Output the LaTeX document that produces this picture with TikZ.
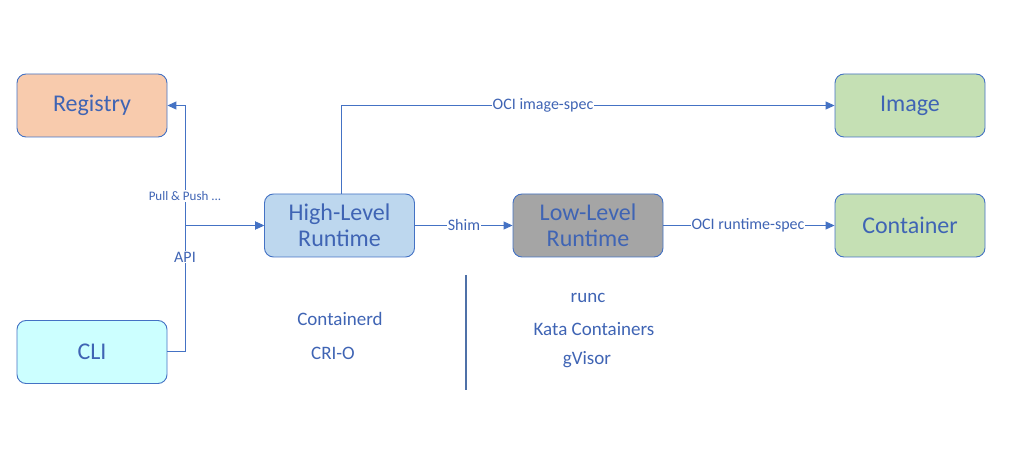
\documentclass[tikz,border=0pt]{standalone}
\usepackage{fontspec}
\setmainfont{Carlito}
\usetikzlibrary{arrows.meta}
\definecolor{ln}{HTML}{4472C4}
\definecolor{tx}{HTML}{3F64B4}
\definecolor{regf}{HTML}{F8CBAD}
\definecolor{clif}{HTML}{CCFFFF}
\definecolor{hlf}{HTML}{BDD7EE}
\definecolor{llf}{HTML}{A5A5A5}
\definecolor{grf}{HTML}{C5E0B4}
\definecolor{sep}{HTML}{4F71A8}
\tikzset{
  box/.style={draw=ln, line width=0.9pt, rounded corners=9pt, minimum width=150pt, minimum height=63pt, inner sep=0pt, align=center, text=tx, font=\fontsize{24}{26}\selectfont},
  conn/.style={draw=ln, line width=1pt},
  arr/.style={conn, -{Triangle[length=9pt,width=8pt]}},
  lbl/.style={fill=white, text=tx, inner sep=1pt, font=\fontsize{16}{17}\selectfont},
  note/.style={text=tx, font=\fontsize{19}{21}\selectfont, inner sep=0pt}
}
\begin{document}
\begin{tikzpicture}[x=1pt,y=-1pt]
\useasboundingbox (0,0) rectangle (1021,473);
\node[box, fill=regf] (reg) at (92,105.5) {Registry};
\node[box, fill=clif] (cli) at (92,352) {CLI};
\node[box, fill=hlf] (hl) at (339.5,225.5) {High-Level\\Runtime};
\node[box, fill=llf] (ll) at (588,225.5) {Low-Level\\Runtime};
\node[box, fill=grf] (img) at (910,105.5) {Image};
\node[box, fill=grf] (cont) at (910,225.5) {Container};

\coordinate (j) at (185,225.5);
\draw[conn] (cli.east) -| (j);
\draw[arr] (j) |- (reg.east);
\draw[arr] (j) -- (hl.west);
\draw[arr] (j) ++(68,0) -- (hl.west);
\node[text=tx, font=\fontsize{13}{14}\selectfont, fill=white, inner sep=1pt] (pp) at (185,196) {Pull \& Push ...};
\node[lbl] (api) at (185,257) {API};

\coordinate (up) at (341,105.5);
\draw[arr] (hl.north -| up) -- (up) -- (img.west);
\node[lbl] (ois) at (543,105.5) {OCI image-spec};

\draw[arr] (hl.east) -- (ll.west);
\node[lbl] (shim) at (464,225.5) {Shim};
\draw[arr] (ll.east) -- (cont.west);
\node[lbl] (ors) at (748,225.5) {OCI runtime-spec};

\coordinate (s1) at (466,275);
\coordinate (s2) at (466,390);
\draw[draw=sep, line width=2.5pt] (s1) -- (s2);

\node[note] (cd) at (340,319) {Containerd};
\node[note] (crio) at (333,353) {CRI-O};
\node[note] (runc) at (588,298) {runc};
\node[note] (kata) at (594,329) {Kata Containers};
\node[note] (gv) at (587,360) {gVisor};
\end{tikzpicture}
\end{document}
